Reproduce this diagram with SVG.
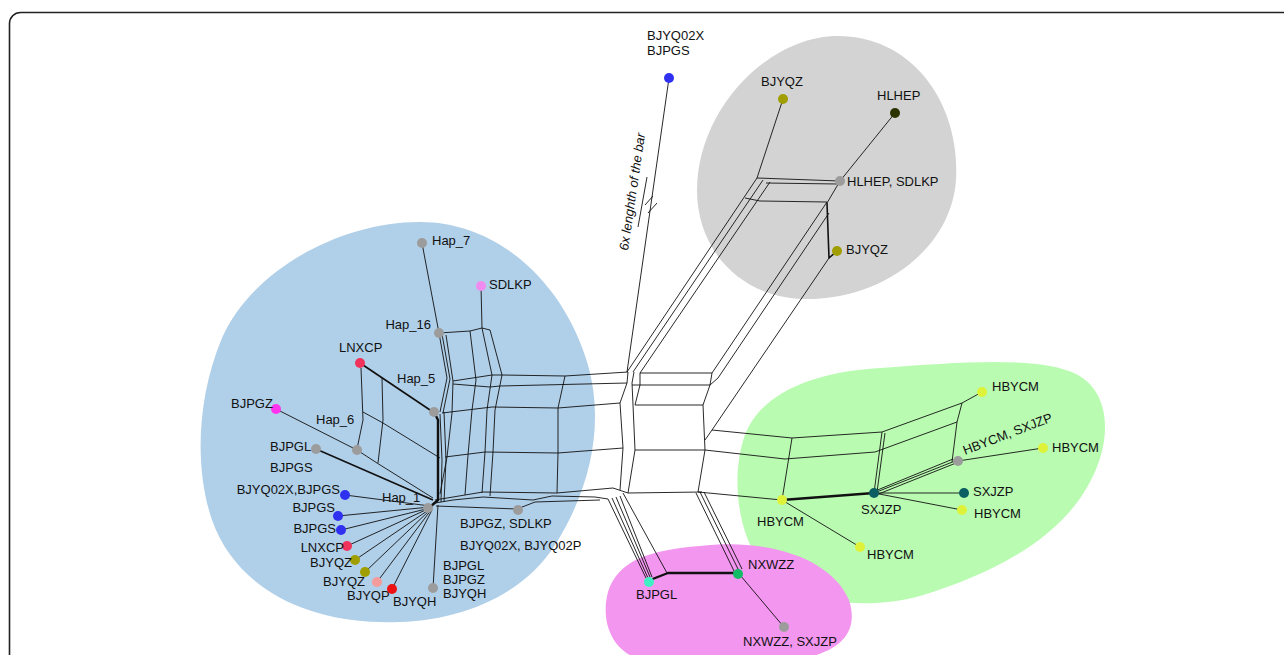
<svg xmlns="http://www.w3.org/2000/svg" width="1284" height="655" viewBox="0 0 1284 655">
<style>
.e{fill:none;stroke:#111;stroke-width:0.9;stroke-linejoin:round}
.t{fill:none;stroke:#111;stroke-width:2.4;stroke-linejoin:round}
.m{fill:none;stroke:#111;stroke-width:1.6;stroke-linejoin:round}
text{font-family:"Liberation Sans",Arial,sans-serif;font-size:13px;fill:#111}
.gr{fill:#9c9c9c}.bl{fill:#3030f0}.ol{fill:#a09e00}.rd{fill:#f0335a}.pk{fill:#f49c9c}.rr{fill:#ee1111}
.sd{fill:#f08cf0}.mg{fill:#ff33ee}.hl{fill:#2b3300}.hb{fill:#dff23a}.sx{fill:#0b5e62}.nx{fill:#12bb66}.cy{fill:#3ef0c2}
</style>
<rect x="9.5" y="12.5" width="1300" height="700" rx="11" fill="#fff" stroke="#222" stroke-width="1.6"/>
<g id="regions">
<path d="M420,222 C500,222 565,285 588,365 C605,425 590,490 555,545 C520,600 450,625 380,622 C300,620 235,585 212,520 C195,470 196,400 222,338 C252,270 340,222 420,222 Z" fill="#b0cfe8"/>
<path d="M838,36 C910,36 960,100 956,180 C951,250 880,302 800,299 C742,296 697,252 697,190 C697,110 768,36 838,36 Z" fill="#d3d3d3"/>
<path d="M880,368 C960,362 1040,356 1076,374 C1112,392 1112,442 1090,482 C1060,540 990,575 920,596 C860,612 790,602 760,562 C735,527 732,470 745,435 C760,395 810,372 880,368 Z" fill="#bafbb2"/>
<path d="M700,546 C772,538 832,560 849,600 C862,640 830,662 760,662 L650,662 C612,656 600,622 608,592 C618,560 650,550 700,546 Z" fill="#f396ef"/>
</g>
<g id="connectors">
<!-- long line to top node with break -->
<path class="e" d="M669,78 L627,372"/>
<path class="e" d="M645,205 L653,196 M648,213 L657,203"/>
<path class="e" d="M647,177 L638,227"/>
<text transform="translate(628,251) rotate(-81.7)" font-style="italic" font-size="13.5">6x lenghth of the bar</text>
<!-- blue core: Hap_7, Hap_16 -->
<path class="e" d="M422,243 L439,333"/>
<path class="e" d="M439,333 L447,378 L440,412"/>
<path class="e" d="M442,334 L450,379 L443,413"/>
<path class="e" d="M446,335 L453,381 L452,413 L447,457 L440,494"/>
<path class="e" d="M439,333 L470,331 L482,328"/>
<path class="e" d="M481,286 L482,328 L492,375"/>
<path class="e" d="M470,331 L476,380 L472,410 L468,455 L465,495"/>
<path class="e" d="M482,328 L490,330 L502,375"/>
<!-- rows -->
<path class="e" d="M453,381 L492,375 L502,375 L565,376 L628,372"/>
<path class="e" d="M453,384 L490,387 L500,386 L627,383"/>
<path class="e" d="M442,413 L492,407 L558,408 L620,403"/>
<path class="e" d="M445,457 L485,452 L558,453 L623,448"/>
<path class="e" d="M435,500 L483,492 L557,493 L613,488 L628,493 L702,492"/>
<path class="e" d="M435,503 L453,500 L483,497 L533,500 L552,496 L595,497 L608,499"/>
<path class="e" d="M436,506 L517,509 L535,502 L600,500"/>
<!-- columns -->
<path class="e" d="M492,375 L487,410 L485,452 L482,493"/>
<path class="e" d="M502,375 L495,410 L493,452 L490,496"/>
<path class="e" d="M565,376 L558,408 L558,453 L557,493"/>
<path class="e" d="M628,372 L627,383 L620,403 L623,448 L620,490"/>
<path class="e" d="M634,372 L632,383 L633,405 L635,450 L628,493"/>
<path class="e" d="M640,373 L640,385 L635,405"/>
<!-- thick core -->
<path class="t" d="M434,412 L438,420 L438,500 L430,507"/>
<path class="e" d="M440,414 L442,460 L441,502"/>
<path class="e" d="M444,412 L446,460 L444,502"/>
<!-- left part -->
<path class="m" d="M360,363 L433,412"/>
<path class="e" d="M361,368 L363,420 L357,449"/>
<path class="e" d="M382,378 L383,420 L378,463"/>
<path class="e" d="M363,412 L383,423 L440,458"/>
<path class="e" d="M276,409 L357,450"/>
<path class="e" d="M357,450 L377,463 L433,498"/>
<path class="m" d="M316,449 L433,500"/>
<!-- Hap_1 rays -->
<path class="e" d="M430,506 L345,495 M430,507 L338,516 M430,508 L341,530 M430,508 L347,546 M430,509 L355,560 M431,509 L365,572 M431,510 L377,582 M432,510 L392,589 M438,505 L433,588"/>
<!-- hub to right -->
<path class="e" d="M640,373 L712,373 L710,385 L703,405 L705,450 L698,492"/>
<path class="e" d="M632,385 L710,385"/>
<path class="e" d="M635,405 L703,405"/>
<path class="e" d="M635,450 L705,450"/>
<!-- gray region -->
<path class="e" d="M783,99 L757,178 L840,181"/>
<path class="e" d="M766,183 L838,184"/>
<path class="e" d="M745,198 L760,201 L827,202"/>
<path class="e" d="M895,113 L840,181 L827,203"/>
<path class="m" d="M827,203 L829,258 L837,251"/>
<path class="e" d="M757,178 L627,372"/>
<path class="e" d="M763,180 L633,372"/>
<path class="e" d="M770,182 L640,373"/>
<path class="e" d="M827,202 L712,373"/>
<path class="e" d="M829,213 L718,378 L710,385"/>
<path class="e" d="M829,258 L712,430 L705,440"/>
<!-- green -->
<path class="e" d="M712,430 L792,438 L882,432 L962,403 L982,392"/>
<path class="e" d="M705,450 L785,459 L875,452 L957,422"/>
<path class="e" d="M698,492 L782,500"/>
<path class="e" d="M792,438 L782,500"/>
<path class="e" d="M882,432 L874,493 M885,433 L877,492"/>
<path class="e" d="M962,403 L957,422 L952,462"/>
<path class="t" d="M782,500 L874,493"/>
<path class="e" d="M874,493 L955,461 M876,495 L956,463 M875,491 L953,459"/>
<path class="e" d="M958,461 L1043,448"/>
<path class="e" d="M874,493 L964,493"/>
<path class="e" d="M874,493 L962,510"/>
<path class="e" d="M782,500 L860,547"/>
<!-- magenta -->
<path class="e" d="M608,499 L646,578 M612,498 L648,578 M616,497 L650,577 M620,496 L652,577"/>
<path class="e" d="M623,493 L667,573"/>
<path class="t" d="M650,580 L668,573 L737,573"/>
<path class="e" d="M696,493 L735,573 M700,492 L739,571 M704,492 L742,569"/>
<path class="e" d="M740,575 L783,626"/>
</g>
<g id="n-top"><circle cx="669" cy="78" r="5" class="bl"/><text x="647" y="40">BJYQ02X</text><text x="647" y="55">BJPGS</text></g>
<g id="n-hap7"><circle cx="422" cy="243" r="5" class="gr"/><text x="432" y="245">Hap_7</text></g>
<g id="n-sdlkp"><circle cx="481" cy="286" r="5" class="sd"/><text x="489" y="289">SDLKP</text></g>
<g id="n-hap16"><circle cx="439" cy="333" r="5" class="gr"/><text x="431" y="329" text-anchor="end">Hap_16</text></g>
<g id="n-lnxcp1"><circle cx="360" cy="363" r="5" class="rd"/><text x="339" y="352">LNXCP</text></g>
<g id="n-hap5"><circle cx="434" cy="412" r="5" class="gr"/><text x="397" y="383">Hap_5</text></g>
<g id="n-bjpgz"><circle cx="276" cy="409" r="5" class="mg"/><text x="231" y="408">BJPGZ</text></g>
<g id="n-hap6"><circle cx="357" cy="450" r="5" class="gr"/><text x="316" y="424">Hap_6</text></g>
<g id="n-bjpgl"><circle cx="316" cy="449" r="5" class="gr"/><text x="270" y="451">BJPGL</text><text x="270" y="472">BJPGS</text></g>
<g id="n-hap1"><circle cx="428" cy="508" r="5" class="gr"/><text x="382" y="502">Hap_1</text></g>
<g id="n-b1"><circle cx="345" cy="495" r="5" class="bl"/><text x="340" y="494" text-anchor="end">BJYQ02X,BJPGS</text></g>
<g id="n-b2"><circle cx="338" cy="516" r="5" class="bl"/><text x="335" y="512" text-anchor="end">BJPGS</text></g>
<g id="n-b3"><circle cx="341" cy="530" r="5" class="bl"/><text x="336" y="533" text-anchor="end">BJPGS</text></g>
<g id="n-lnxcp2"><circle cx="347" cy="546" r="5" class="rd"/><text x="344" y="552" text-anchor="end">LNXCP</text></g>
<g id="n-bjyqz1"><circle cx="355" cy="560" r="5" class="ol"/><text x="352" y="567" text-anchor="end">BJYQZ</text></g>
<g id="n-bjyqz2"><circle cx="365" cy="572" r="5" class="ol"/><text x="365" y="586" text-anchor="end">BJYQZ</text></g>
<g id="n-bjyqp"><circle cx="377" cy="582" r="5" class="pk"/><text x="347" y="600">BJYQP</text></g>
<g id="n-bjyqh"><circle cx="392" cy="589" r="5" class="rr"/><text x="393" y="606">BJYQH</text></g>
<g id="n-g588"><circle cx="433" cy="588" r="5" class="gr"/><text x="443" y="570">BJPGL</text><text x="443" y="584">BJPGZ</text><text x="443" y="598">BJYQH</text></g>
<g id="n-g518"><circle cx="518" cy="510" r="5" class="gr"/><text x="460" y="528">BJPGZ, SDLKP</text><text x="460" y="550">BJYQ02X, BJYQ02P</text></g>
<g id="n-gbjyqz1"><circle cx="783" cy="99" r="5" class="ol"/><text x="761" y="86">BJYQZ</text></g>
<g id="n-hlhep"><circle cx="895" cy="113" r="5" class="hl"/><text x="877" y="100">HLHEP</text></g>
<g id="n-hlsd"><circle cx="840" cy="181" r="5" class="gr"/><text x="847" y="186">HLHEP, SDLKP</text></g>
<g id="n-gbjyqz2"><circle cx="837" cy="251" r="5" class="ol"/><text x="846" y="254">BJYQZ</text></g>
<g id="n-hb1"><circle cx="982" cy="392" r="5" class="hb"/><text x="992" y="391">HBYCM</text></g>
<g id="n-hbsx"><circle cx="958" cy="461" r="5" class="gr"/><text transform="translate(965,455) rotate(-21)">HBYCM, SXJZP</text></g>
<g id="n-hb2"><circle cx="1043" cy="448" r="5" class="hb"/><text x="1052" y="452">HBYCM</text></g>
<g id="n-sx1"><circle cx="964" cy="493" r="5" class="sx"/><text x="973" y="496">SXJZP</text></g>
<g id="n-hb3"><circle cx="962" cy="510" r="5" class="hb"/><text x="974" y="518">HBYCM</text></g>
<g id="n-sx0"><circle cx="874" cy="493" r="5" class="sx"/><text x="861" y="514">SXJZP</text></g>
<g id="n-hb0"><circle cx="782" cy="500" r="5" class="hb"/><text x="757" y="526">HBYCM</text></g>
<g id="n-hb4"><circle cx="860" cy="547" r="5" class="hb"/><text x="867" y="559">HBYCM</text></g>
<g id="n-nxwzz"><circle cx="738" cy="574" r="5" class="nx"/><text x="748" y="569">NXWZZ</text></g>
<g id="n-bjpgl2"><circle cx="649" cy="582" r="5" class="cy"/><text x="636" y="599">BJPGL</text></g>
<g id="n-nxsx"><circle cx="784" cy="627" r="5" class="gr"/><text x="743" y="646">NXWZZ, SXJZP</text></g>
</svg>
